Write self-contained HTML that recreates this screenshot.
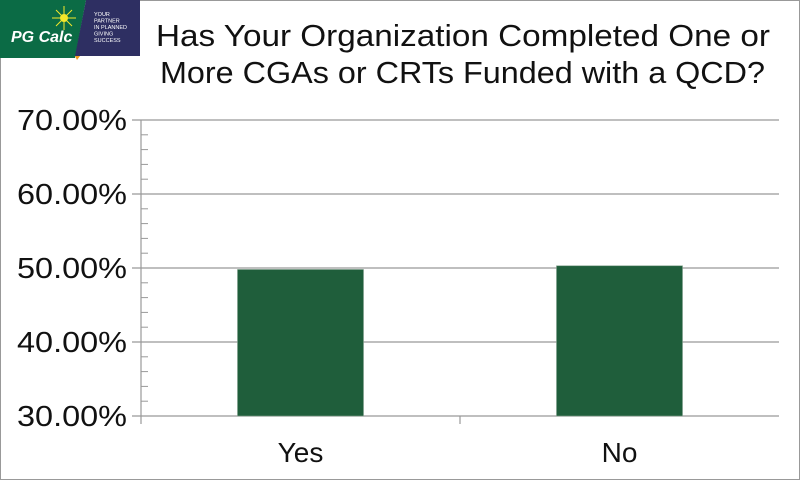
<!DOCTYPE html>
<html><head><meta charset="utf-8"><style>
body{margin:0;background:#fff;}
#wrap{position:relative;width:800px;height:480px;overflow:hidden;font-family:"Liberation Sans",sans-serif;}
</style></head><body>
<div id="wrap">
<svg id="chart" width="800" height="480" viewBox="0 0 800 480">
  <rect x="0.5" y="0.5" width="799" height="479" fill="#fff" stroke="#999"/>
  <g>
    <polygon points="0,0 86,0 75,58 0,58" fill="#0b6b45"/>
    <polygon points="86,0 140,0 140,56 75,56" fill="#2e2f62"/>
    <polygon points="75,56 80,56 77,60" fill="#f39c1f"/>
    <circle cx="64" cy="18" r="4" fill="#f5e82a"/>
    <g stroke="#f5e82a" stroke-width="1">
      <line x1="64" y1="6" x2="64" y2="30"/><line x1="52" y1="18" x2="76" y2="18"/>
      <line x1="56" y1="10" x2="72" y2="26"/><line x1="72" y1="10" x2="56" y2="26"/>
    </g>
    <text x="11" y="42" font-size="16" font-weight="bold" font-style="italic" fill="#fff">PG Calc</text>
    <text x="94" y="16" font-size="5.5" fill="#fff">YOUR</text>
    <text x="94" y="22.5" font-size="5.5" fill="#fff">PARTNER</text>
    <text x="94" y="29" font-size="5.5" fill="#fff">IN PLANNED</text>
    <text x="94" y="35.5" font-size="5.5" fill="#fff">GIVING</text>
    <text x="94" y="42" font-size="5.5" fill="#fff">SUCCESS</text>
  </g>
  <text x="156" y="46" font-size="31" textLength="614" lengthAdjust="spacingAndGlyphs" fill="#111">Has Your Organization Completed One or</text>
  <text x="160" y="83" font-size="31" textLength="605" lengthAdjust="spacingAndGlyphs" fill="#111">More CGAs or CRTs Funded with a QCD?</text>
  <g id="grid"></g><g id="bars"></g><g id="axes"></g>
</svg>
</div>
<script>
const categories = ["Yes", "No"];
const values = [49.8, 50.3];
const yTicks = [30, 40, 50, 60, 70];
const yTickLabels = ["30.00%", "40.00%", "50.00%", "60.00%", "70.00%"];
const NS = "http://www.w3.org/2000/svg";
const x0 = 141, x1 = 779, yMin = 30, yMax = 70, yTop = 120, yBot = 416;
function y(v){ return yBot - (v - yMin) / (yMax - yMin) * (yBot - yTop); }
const band = (x1 - x0) / categories.length;
function xc(i){ return x0 + band * (i + 0.5); }
function mk(tag, attrs, parent){ const e = document.createElementNS(NS, tag); for (const k in attrs) e.setAttribute(k, attrs[k]); document.getElementById(parent).appendChild(e); return e; }
yTicks.forEach((t, i) => {
  const g = mk("line", {x1: 132, x2: x1, y1: y(t), y2: y(t), stroke: "#999", "stroke-width": 1.2}, "grid");
  
  
  const l = mk("text", {x: 17, y: y(t) + 10, "font-size": 29, textLength: 110, lengthAdjust: "spacingAndGlyphs", fill: "#111"}, "axes");
  l.textContent = yTickLabels[i];
  
  
});
for (let v = yMin; v < yMax; v += 2) {
  if (v % 10 === 0) continue;
  const m = mk("line", {x1: x0, x2: x0 + 7, y1: y(v), y2: y(v), stroke: "#999", "stroke-width": 1}, "axes");
  
  
}
const ya = mk("line", {x1: x0, x2: x0, y1: yTop, y2: yBot + 8, stroke: "#999", "stroke-width": 1.2}, "axes");


const ct = mk("line", {x1: x0 + band, x2: x0 + band, y1: yBot, y2: yBot + 8, stroke: "#999", "stroke-width": 1.2}, "axes");


const bw = 126;
categories.forEach((c, i) => {
  const b = mk("rect", {x: xc(i) - bw / 2, y: y(values[i]), width: bw, height: yBot - y(values[i]), fill: "#1f5e3b", stroke: "#7f9f8a", "stroke-width": 0.6}, "bars");
  
  
  const t = mk("text", {x: xc(i), y: 462, "text-anchor": "middle", "font-size": 28, fill: "#111"}, "axes");
  t.textContent = c;
  
  
});
</script>
</body></html>
